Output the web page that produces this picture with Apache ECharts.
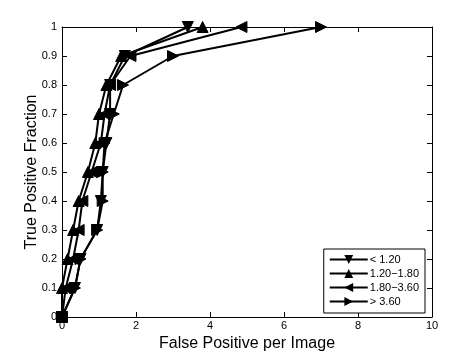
<!DOCTYPE html>
<html><head><meta charset="utf-8">
<script src="https://cdn.jsdelivr.net/npm/echarts@6/dist/echarts.min.js"></script>
<style>html,body{margin:0;padding:0;background:#fff}#c{width:476px;height:357px}</style>
</head><body><div id="c"></div>
<script>
const yValues = [0, 0.1, 0.2, 0.3, 0.4, 0.5, 0.6, 0.7, 0.8, 0.9, 1.0];
const seriesNames = ['< 1.20', '1.20\u22121.80', '1.80\u22123.60', '> 3.60'];
const xLow = [0, 0.35, 0.5, 0.95, 1.05, 1.1, 1.2, 1.3, 1.3, 1.7, 3.4];
const xMidLow = [0, 0, 0.15, 0.3, 0.45, 0.7, 0.9, 1.0, 1.2, 1.6, 3.8];
const xMidHigh = [0, 0.1, 0.3, 0.45, 0.55, 0.8, 1.05, 1.15, 1.3, 1.85, 4.85];
const xHigh = [0, 0.35, 0.5, 0.95, 1.1, 1.1, 1.15, 1.4, 1.65, 3.0, 7.0];
const xTicks = [0, 2, 4, 6, 8, 10];
const yTicks = [0, 0.1, 0.2, 0.3, 0.4, 0.5, 0.6, 0.7, 0.8, 0.9, 1];

const rotations = [180, 0, 90, -90];
const xs = [xLow, xMidLow, xMidHigh, xHigh];
const font = 'Liberation Sans, Arial, sans-serif';

const chart = echarts.init(document.getElementById('c'));
const axisCommon = {
  axisLine: {show: true, onZero: false, lineStyle: {color: '#000', width: 1}},
  axisTick: {show: true, inside: true, length: 5, lineStyle: {color: '#000'}},
  splitLine: {show: false}
};
chart.setOption({
  animation: false,
  backgroundColor: '#fff',
  grid: {left: 62, right: 44, top: 27, bottom: 39, containLabel: false},
  xAxis: [
    Object.assign({type: 'value', min: xTicks[0], max: xTicks[xTicks.length - 1], interval: 2, position: 'bottom',
      name: 'False Positive per Image', nameLocation: 'middle', nameGap: 19, nameMoveOverlap: false,
      nameTextStyle: {fontFamily: font, fontSize: 16, color: '#000'},
      axisLabel: {fontFamily: font, fontSize: 11, color: '#000', margin: 3}}, axisCommon),
    Object.assign({type: 'value', min: xTicks[0], max: xTicks[xTicks.length - 1], interval: 2, position: 'top',
      axisLabel: {show: false}}, axisCommon)
  ],
  yAxis: [
    Object.assign({type: 'value', min: yTicks[0], max: yTicks[yTicks.length - 1], interval: 0.1, position: 'left',
      name: 'True Positive Fraction', nameLocation: 'middle', nameGap: 22, nameMoveOverlap: false,
      nameTextStyle: {fontFamily: font, fontSize: 16, color: '#000'},
      axisLabel: {fontFamily: font, fontSize: 11, color: '#000', margin: 5,
        formatter: v => (Math.abs(v - Math.round(v)) < 1e-9 ? String(Math.round(v)) : v.toFixed(1))}}, axisCommon),
    Object.assign({type: 'value', min: yTicks[0], max: yTicks[yTicks.length - 1], interval: 0.1, position: 'right',
      axisLabel: {show: false}}, axisCommon)
  ],
  legend: {
    orient: 'vertical', right: 51, bottom: 44,
    backgroundColor: '#fff', borderColor: '#000', borderWidth: 1, borderRadius: 0,
    padding: [5, 6, 6, 5], itemGap: 3, itemWidth: 38, itemHeight: 11,
    textStyle: {fontFamily: font, fontSize: 11, color: '#000', padding: [0, 0, 0, -3]},
    data: seriesNames
  },
  series: seriesNames.map((name, i) => ({
    name: name, type: 'line',
    data: xs[i].map((x, j) => [x, yValues[j]]),
    symbol: 'triangle', symbolSize: 11, symbolRotate: rotations[i],
    showAllSymbol: true,
    lineStyle: {color: '#000', width: 2},
    itemStyle: {color: '#000', borderColor: '#000'},
    emphasis: {disabled: true}
  }))
});
</script></body></html>
